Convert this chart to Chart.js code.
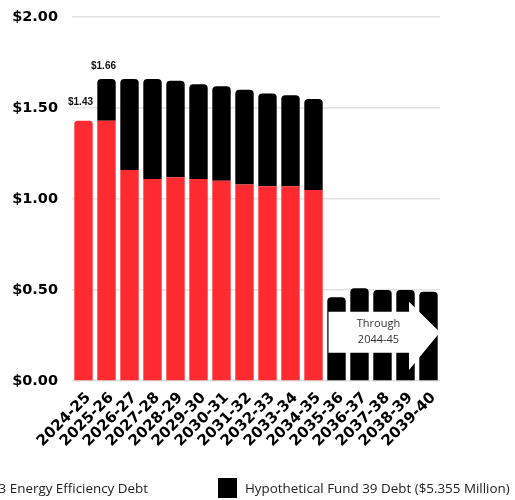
<!DOCTYPE html>
<html>
<head>
<meta charset="utf-8">
<script src="https://cdn.jsdelivr.net/npm/chart.js@4/dist/chart.umd.min.js"></script>
<style>
  html,body{margin:0;padding:0;background:#fff;overflow:hidden;}
  #wrap{position:relative;width:515px;height:500px;overflow:hidden;}
  canvas{position:absolute;left:0;top:0;}
  .leg{position:absolute;top:478px;height:20px;display:flex;align-items:center;font-family:"Open Sans",sans-serif;font-size:13.4px;color:#222;white-space:nowrap;}
  .leg .box{width:19px;height:20px;margin-right:8px;}
</style>
</head>
<body>
<div id="wrap">
  <canvas id="c" width="515" height="500"></canvas>
</div>
<script>
const categories = ["2024-25","2025-26","2026-27","2027-28","2028-29","2029-30","2030-31","2031-32","2032-33","2033-34","2034-35","2035-36","2036-37","2037-38","2038-39","2039-40"];
const energy = [1.43,1.43,1.16,1.11,1.12,1.11,1.10,1.08,1.07,1.07,1.05,0,0,0,0,0];
const totals = [1.43,1.66,1.66,1.66,1.65,1.63,1.62,1.60,1.58,1.57,1.55,0.46,0.51,0.50,0.50,0.49];
const seriesNames = ["2023 Energy Efficiency Debt","Hypothetical Fund 39 Debt ($5.355 Million)"];
const seriesColors = ["#ff2b30","#000000"];
const topLabels = ["$1.43","$1.66"];
const yTicks = [0,0.5,1.0,1.5,2.0];
const arrowText = ["Through","2044-45"];
</script>
<script>
const fund39 = totals.map((t,i)=>Math.round((t-energy[i])*100)/100);

const topLabelPlugin = {
  id:'topLabels',
  afterDatasetsDraw(chart){
    const ctx = chart.ctx;
    const x = chart.scales.x, y = chart.scales.y;
    ctx.save();
    ctx.font = 'bold 10px "Liberation Sans", Arial, sans-serif';
    ctx.fillStyle = '#111';
    ctx.textAlign = 'center';
    ctx.textBaseline = 'middle';
    topLabels.forEach((t,i)=>{
      ctx.fillText(t, x.getPixelForValue(i)-3, y.getPixelForValue(totals[i]) - (i===0?18:13));
    });
    // arrow annotation
    const left = x.getPixelForValue(11) - 8;
    const right = chart.chartArea.right;
    const headX = right - 31;
    const bTop = y.getPixelForValue(0.38), bBot = y.getPixelForValue(0.155);
    const hTop = y.getPixelForValue(0.435), hBot = y.getPixelForValue(0.06);
    const mid = (bTop+bBot)/2;
    ctx.fillStyle = '#fff';
    ctx.beginPath();
    ctx.moveTo(left,bTop); ctx.lineTo(headX,bTop); ctx.lineTo(headX,hTop);
    ctx.lineTo(right,mid); ctx.lineTo(headX,hBot); ctx.lineTo(headX,bBot);
    ctx.lineTo(left,bBot); ctx.closePath(); ctx.fill();
    ctx.fillStyle = '#333';
    ctx.font = '11px "Open Sans", sans-serif';
    const cx = left + 50;
    ctx.fillText(arrowText[0], cx, mid-8);
    ctx.fillText(arrowText[1], cx, mid+8);
    ctx.restore();
  }
};

new Chart(document.getElementById('c'), {
  type:'bar',
  data:{
    labels:categories,
    datasets:[
      {label:seriesNames[0], data:energy, backgroundColor:seriesColors[0], borderRadius:3, borderSkipped:'start', barPercentage:0.8, categoryPercentage:1.0},
      {label:seriesNames[1], data:fund39, backgroundColor:seriesColors[1], borderRadius:4, borderSkipped:'start', barPercentage:0.8, categoryPercentage:1.0}
    ]
  },
  options:{
    responsive:false,
    animation:false,
    devicePixelRatio:1,
    layout:{padding:{left:0,right:75,top:17,bottom:35}},
    plugins:{legend:{display:false},tooltip:{enabled:false}},
    scales:{
      x:{
        stacked:true,
        grid:{display:false},
        border:{display:false},
        ticks:{color:'#000',font:{family:'"DejaVu Sans", sans-serif',size:15,weight:'bold'},minRotation:45,maxRotation:45,autoSkip:false,padding:0,labelOffset:5},
        afterFit(s){s.height=84; s.paddingLeft=0; s.paddingRight=0;}
      },
      y:{
        stacked:true,
        min:0,max:2,
        afterBuildTicks(s){s.ticks=yTicks.map(v=>({value:v}));},
        grid:{color:'#e2e2e2',lineWidth:1.5,drawTicks:false},
        border:{display:false},
        ticks:{color:'#000',padding:14,font:{family:'"DejaVu Sans", sans-serif',size:14.5,weight:'bold'},callback:v=>'$'+Number(v).toFixed(2)},
        afterFit(s){s.width=72; s.paddingTop=0; s.paddingBottom=0;}
      }
    }
  },
  plugins:[topLabelPlugin]
});

// HTML legend
const wrap = document.getElementById('wrap');
seriesNames.forEach((n,i)=>{
  const d = document.createElement('div');
  d.className='leg';
  if(i===0){ d.style.right = (515-148)+'px'; } else { d.style.left = '218px'; }
  const b = document.createElement('span'); b.className='box'; b.style.background=seriesColors[i];
  const t = document.createElement('span'); t.textContent=n;
  d.appendChild(b); d.appendChild(t);
  wrap.appendChild(d);
});
</script>
</body>
</html>
